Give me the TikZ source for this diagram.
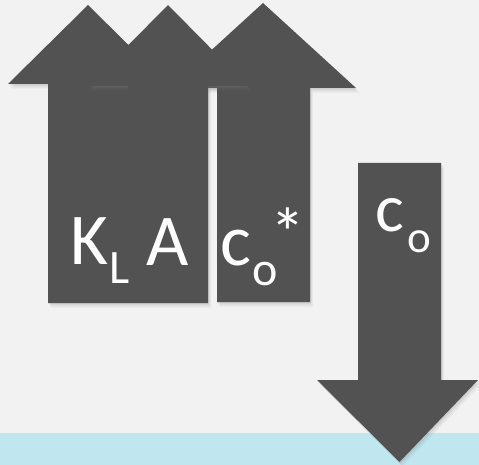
\documentclass[tikz,border=0pt]{standalone}
\usepackage{fontspec}
\setmainfont{Carlito}
\usetikzlibrary{shadows}
\definecolor{bggray}{RGB}{242,242,242}
\definecolor{arrowgray}{RGB}{82,82,82}
\definecolor{waterblue}{RGB}{192,231,240}
\begin{document}
\begin{tikzpicture}[x=1pt,y=-1pt,
  arrowshape/.style={fill=arrowgray, draw=none,
    drop shadow={opacity=0.10, shadow xshift=0.8pt, shadow yshift=-1.2pt},
    drop shadow={opacity=0.10, shadow xshift=1.6pt, shadow yshift=-2.4pt},
    drop shadow={opacity=0.08, shadow xshift=2.4pt, shadow yshift=-3.6pt},
    drop shadow={opacity=0.06, shadow xshift=3.2pt, shadow yshift=-4.8pt}},
  lbl/.style={text=white, inner sep=0pt, anchor=base west},
  big/.style={font=\fontsize{73}{73}\selectfont},
  small/.style={font=\fontsize{48}{48}\selectfont}]
% background and bounding box
\fill[bggray] (0,0) rectangle (479,465);
\useasboundingbox (0,0) rectangle (479,465);
% water strip
\fill[waterblue] (0,433) rectangle (479,465);
% arrow 3 (back)
\path[arrowshape] (217,302) -- (217,88) -- (170,88) -- (263,3) -- (356,88) -- (310,88) -- (310,302) -- cycle;
% arrow 1
\path[arrowshape] (48,303) -- (48,84) -- (8,84) -- (88,5) -- (168,84) -- (128,84) -- (128,303) -- cycle;
% arrow 2 (front)
\path[arrowshape] (128,303) -- (128,86) -- (88,86) -- (168,5) -- (248,86) -- (208,86) -- (208,303) -- cycle;
% down arrow
\path[arrowshape] (358,163) -- (441,163) -- (441,380) -- (478,380) -- (399.5,462) -- (317,380) -- (358,380) -- cycle;
% labels
\node[lbl,big]   (k)  at (70,264)   {K};
\node[lbl,small] (l)  at (109,283)  {L};
\node[lbl,big]   (a)  at (146,265)  {A};
\node[lbl,big]   (c1) at (220,265) {c};
\node[lbl,small] (o1) at (252,285) {o};
\node[lbl,font=\fontsize{70}{70}\selectfont] (st) at (279,257)  {\hspace*{-9pt}*};
\node[lbl,font=\fontsize{68}{68}\selectfont] (c2) at (375.5,232) {c};
\node[lbl,font=\fontsize{45}{45}\selectfont] (o2) at (407,252) {o};
\end{tikzpicture}
\end{document}
